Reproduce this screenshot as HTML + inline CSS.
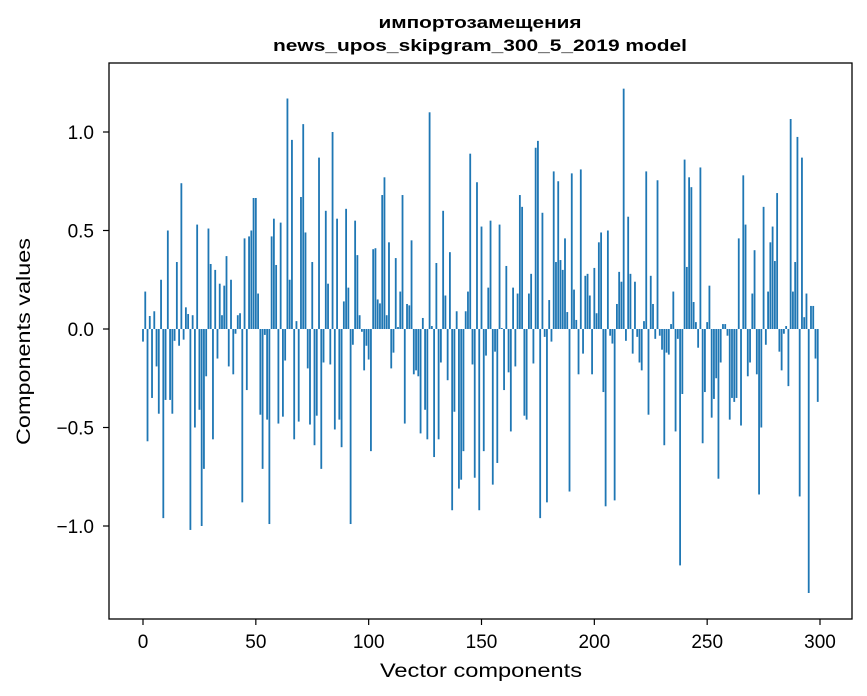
<!DOCTYPE html>
<html><head><meta charset="utf-8"><style>
html,body{margin:0;padding:0;background:#fff;}
svg{display:block;font-family:"DejaVu Sans","Liberation Sans",sans-serif;}
</style></head><body>
<svg id="chart" width="867" height="696" viewBox="0 0 867 696" xmlns="http://www.w3.org/2000/svg">
<text x="480" y="28" text-anchor="middle" font-size="17" font-weight="bold" fill="#000" font-family="Liberation Sans, sans-serif" textLength="203" lengthAdjust="spacingAndGlyphs">импортозамещения</text>
<text x="480" y="51" text-anchor="middle" font-size="17" font-weight="bold" fill="#000" font-family="Liberation Sans, sans-serif" textLength="414" lengthAdjust="spacingAndGlyphs">news_upos_skipgram_300_5_2019 model</text>
<g id="bars"></g>
<g id="xticks"></g>
<g id="yticks"></g>
<rect x="109" y="63" width="743" height="556" fill="none" stroke="#000" stroke-width="1.3"/>
<text x="481" y="677" text-anchor="middle" font-size="19" fill="#000" font-family="Liberation Sans, sans-serif" textLength="202" lengthAdjust="spacingAndGlyphs">Vector components</text>
<text transform="translate(30,341.5) rotate(-90)" text-anchor="middle" font-size="19" fill="#000" font-family="Liberation Sans, sans-serif" textLength="207" lengthAdjust="spacingAndGlyphs">Components values</text>
</svg>
<script>
const values = [
-0.064,0.19,-0.57,0.066,-0.35,0.09,-0.19,-0.43,0.25,-0.96,
-0.36,0.50,-0.36,-0.43,-0.06,0.34,-0.085,0.74,-0.054,0.11,
0.076,-1.02,0.07,-0.50,0.53,-0.41,-1.00,-0.71,-0.24,0.51,
0.33,-0.56,0.30,-0.15,0.23,0.07,0.22,0.37,-0.19,0.25,
-0.23,-0.024,0.07,0.08,-0.88,0.46,-0.31,0.47,0.50,0.665,
0.665,0.18,-0.435,-0.71,-0.03,-0.46,-0.99,0.47,0.56,0.325,
-0.48,0.54,-0.445,-0.16,1.17,0.25,0.96,-0.56,0.04,-0.47,
0.67,1.04,0.49,-0.20,-0.485,0.34,-0.59,-0.44,0.87,-0.71,
-0.17,0.60,0.23,-0.18,1.00,-0.51,0.56,-0.46,-0.60,0.14,
0.61,0.21,-0.99,-0.08,0.55,0.375,0.07,-0.014,-0.21,-0.085,
-0.155,-0.62,0.405,0.41,0.15,0.13,0.68,0.77,0.07,0.44,
-0.20,-0.12,0.36,0.01,0.19,0.68,-0.48,0.127,0.12,0.45,
-0.23,-0.21,-0.24,-0.53,0.056,-0.41,-0.56,1.10,0.015,-0.65,
0.335,-0.56,-0.17,0.60,0.17,-0.26,0.39,-0.92,-0.42,0.09,
-0.81,-0.765,-0.62,0.09,0.19,0.89,-0.18,-0.755,0.745,-0.92,
0.52,-0.62,-0.135,0.21,0.55,-0.79,-0.115,-0.68,0.53,0.005,
-0.31,0.32,-0.22,-0.52,0.21,-0.19,0.18,0.68,0.62,-0.44,
-0.46,0.18,0.28,-0.175,0.92,0.955,-0.96,0.59,-0.04,-0.88,
0.147,-0.064,0.80,0.34,0.75,0.35,0.30,0.46,0.086,-0.825,
0.79,0.20,0.046,-0.23,0.81,-0.125,0.27,0.28,0.17,-0.23,
0.31,0.08,0.44,0.49,-0.32,-0.90,0.50,-0.034,-0.074,-0.87,
0.127,0.29,0.24,1.22,-0.06,0.57,0.28,-0.125,0.24,-0.04,
-0.17,-0.21,0.04,0.80,-0.435,0.27,0.127,-0.05,0.755,-0.034,
-0.105,-0.59,-0.12,-0.13,0.025,0.19,-0.52,-0.05,-1.20,-0.33,
0.86,0.315,0.77,0.72,0.137,0.035,-0.095,0.82,-0.58,-0.32,
0.035,0.22,-0.45,-0.355,-0.25,-0.76,-0.17,0.025,0.025,-0.034,
-0.46,-0.35,-0.37,-0.35,0.46,-0.49,0.78,0.53,-0.24,-0.17,
0.18,0.40,-0.23,-0.84,-0.50,0.62,-0.08,0.19,0.44,0.52,
0.345,0.69,-0.115,-0.21,-0.024,0.015,-0.29,1.066,0.19,0.34,
0.975,-0.85,0.87,0.06,0.18,-1.34,0.117,0.117,-0.15,-0.37
];
const xTicks = [0,50,100,150,200,250,300];
const yTicks = [-1.0,-0.5,0.0,0.5,1.0];
const yTickLabels = ["\u22121.0","\u22120.5","0.0","0.5","1.0"];

const NS = "http://www.w3.org/2000/svg";
function xScale(v){ return 143 + v*(677/300); }
function yScale(v){ return 329 - v*197; }
const barsG = document.getElementById('bars');
const bw = 0.8*(677/300);
values.forEach((v,i)=>{
  const r = document.createElementNS(NS,'rect');
  const y0 = yScale(0), y1 = yScale(v);
  r.setAttribute('x', xScale(i)-bw/2);
  r.setAttribute('y', Math.min(y0,y1));
  r.setAttribute('width', bw);
  r.setAttribute('height', Math.abs(y1-y0));
  r.setAttribute('fill', '#1f77b4');
  
  
  barsG.appendChild(r);
});
const xg = document.getElementById('xticks');
xTicks.forEach(t=>{
  const x = xScale(t);
  const l = document.createElementNS(NS,'line');
  l.setAttribute('x1',x); l.setAttribute('x2',x);
  l.setAttribute('y1',619); l.setAttribute('y2',625);
  l.setAttribute('stroke','#000'); l.setAttribute('stroke-width','1.2');
  
  
  xg.appendChild(l);
  const tx = document.createElementNS(NS,'text');
  tx.setAttribute('x',x); tx.setAttribute('y',648);
  tx.setAttribute('text-anchor','middle'); tx.setAttribute('font-size','19');
  tx.setAttribute('font-family','Liberation Sans, sans-serif');
  tx.textContent = t;
  
  
  xg.appendChild(tx);
});
const yg = document.getElementById('yticks');
yTicks.forEach((t,i)=>{
  const y = yScale(t);
  const l = document.createElementNS(NS,'line');
  l.setAttribute('x1',103); l.setAttribute('x2',109);
  l.setAttribute('y1',y); l.setAttribute('y2',y);
  l.setAttribute('stroke','#000'); l.setAttribute('stroke-width','1.2');
  
  
  yg.appendChild(l);
  const tx = document.createElementNS(NS,'text');
  tx.setAttribute('x',94); tx.setAttribute('y',y+7);
  tx.setAttribute('text-anchor','end'); tx.setAttribute('font-size','19');
  tx.setAttribute('font-family','Liberation Sans, sans-serif');
  tx.textContent = yTickLabels[i];
  
  
  yg.appendChild(tx);
});
</script>
</body></html>
